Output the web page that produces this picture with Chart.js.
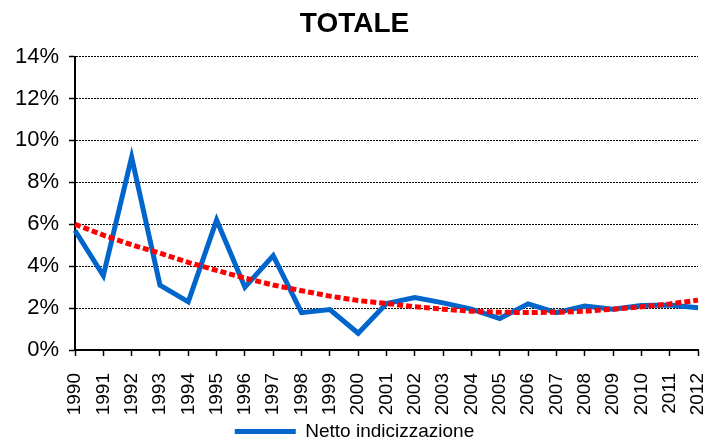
<!DOCTYPE html>
<html>
<head>
<meta charset="utf-8">
<script src="https://cdn.jsdelivr.net/npm/chart.js@4"></script>
<style>
  html, body { margin: 0; padding: 0; background: #fff; }
  #wrap { width: 709px; height: 444px; }
</style>
</head>
<body>
<div id="wrap"><canvas id="chart" width="709" height="444"></canvas></div>
<script>
// Data
const years = ['1990','1991','1992','1993','1994','1995','1996','1997','1998','1999','2000',
               '2001','2002','2003','2004','2005','2006','2007','2008','2009','2010','2011','2012'];
const netto = [5.7, 3.55, 9.2, 3.1, 2.3, 6.2, 3.0, 4.5, 1.78, 1.93, 0.8,
               2.22, 2.5, 2.25, 1.95, 1.5, 2.2, 1.78, 2.1, 1.95, 2.12, 2.15, 2.02];
const trend = [6.0, 5.48, 5.02, 4.62, 4.18, 3.8, 3.43, 3.1, 2.83, 2.57, 2.36,
               2.22, 2.06, 1.95, 1.85, 1.8, 1.79, 1.8, 1.85, 1.95, 2.06, 2.2, 2.38];
const yTicks = [0, 2, 4, 6, 8, 10, 12, 14];

const FONT = "'Liberation Sans', Arial, sans-serif";

// Chart
const ctx = document.getElementById('chart').getContext('2d');
new Chart(ctx, {
    type: 'line',
    data: {
        labels: years,
        datasets: [{
            label: 'Tendenza',
            data: trend,
            borderColor: '#ff0000',
            borderWidth: 5,
            borderDash: [6, 3],
            borderCapStyle: 'butt',
            pointRadius: 0,
            tension: 0,
            order: 0
        }, {
            label: 'Netto indicizzazione',
            data: netto,
            borderColor: '#0066cc',
            backgroundColor: '#0066cc',
            borderWidth: 5,
            borderJoinStyle: 'miter',
            pointRadius: 0,
            tension: 0,
            order: 1
        }]
    },
    options: {
        responsive: false,
        animation: false,
        // negative bottom padding pushes the legend a bit lower
        layout: { padding: { left: 0, right: 0, top: 0, bottom: -7 } },
        plugins: {
            title: {
                display: true,
                text: 'TOTALE',
                color: '#000',
                font: { family: FONT, size: 28, weight: 'bold' },
                padding: { top: 7, bottom: 16 }
            },
            legend: {
                position: 'bottom',
                labels: {
                    color: '#000',
                    font: { family: FONT, size: 19 },
                    boxWidth: 61,
                    boxHeight: 5,
                    padding: 0,
                    filter: item => item.datasetIndex === 1,
                    generateLabels: chart => chart.data.datasets.map((ds, i) => ({
                        text: ds.label,
                        fillStyle: ds.borderColor,
                        strokeStyle: ds.borderColor,
                        lineWidth: 0,
                        datasetIndex: i
                    }))
                }
            },
            tooltip: { enabled: false }
        },
        scales: {
            x: {
                offset: false,
                grid: {
                    drawOnChartArea: false,
                    drawTicks: true,
                    tickLength: 6,
                    tickColor: '#000',
                    tickWidth: 1.5
                },
                border: { color: '#000', width: 2 },
                ticks: {
                    color: '#000',
                    font: { family: FONT, size: 19 },
                    minRotation: 90,
                    maxRotation: 90,
                    autoSkip: false,
                    padding: 17
                },
                afterFit: s => {
                    s.height = 72;
                    s.paddingLeft = 0;
                    s.paddingRight = 11;
                }
            },
            y: {
                min: 0,
                max: 14,
                afterBuildTicks: s => { s.ticks = yTicks.map(v => ({ value: v })); },
                grid: {
                    color: '#000',
                    lineWidth: 1,
                    tickLength: 6,
                    tickColor: '#000',
                    tickWidth: 1.5
                },
                border: { color: '#000', width: 2, dash: [2, 1] },
                ticks: {
                    color: '#000',
                    font: { family: FONT, size: 22 },
                    padding: 10,
                    callback: v => v + '%'
                },
                afterFit: s => { s.width = 75; }
            }
        }
    }
});
</script>
</body>
</html>
